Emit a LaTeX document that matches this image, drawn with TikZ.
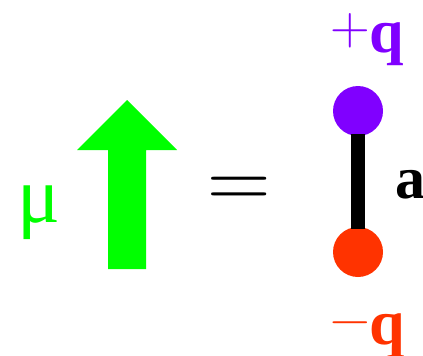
\documentclass[tikz,border=0pt]{standalone}
\usepackage{fontspec}
\setmainfont{Liberation Serif}
\newfontfamily\lmfont{Latin Modern Roman}
\usepackage{tikz}
\usetikzlibrary{positioning}

\definecolor{dipgreen}{HTML}{00FF00}
\definecolor{dippurple}{HTML}{8000FF}
\definecolor{dipred}{HTML}{FF3300}

\newcommand{\signsym}[1]{\raisebox{8pt}{\fontsize{55}{55}\lmfont #1}}

\begin{document}
\begin{tikzpicture}[x=1pt,y=-1pt,
    lbl/.style={anchor=base west, inner sep=0pt},
    charge/.style={circle, inner sep=0pt, minimum size=50pt}]
    \useasboundingbox (0,0) rectangle (423,356);

    % moment arrow and its symbol
    \fill[dipgreen] (108,269) -- (108,150) -- (77,150) -- (127,100)
        -- (177,150) -- (146,150) -- (146,269) -- cycle;
    \node[lbl, text=dipgreen] (mu) at (17,222) {\fontsize{80}{80}\selectfont μ};

    % equals sign
    \node[lbl] (eq) at (207,208) {\fontsize{88}{88}\lmfont =};

    % dipole
    \node[charge, fill=dippurple] (plus) at (358,111) {};
    \node[charge, fill=dipred] (minus) at (358,252) {};
    \draw[line width=14pt, shorten <=-2pt, shorten >=-2pt] (plus) -- (minus);

    \node[lbl, text=dippurple] (pq) at (330,52) {\signsym{+}\fontsize{62}{62}\selectfont\textbf{q}};
    \node[lbl, text=dipred] (mq) at (330,344) {\signsym{−}\fontsize{64}{64}\selectfont\textbf{q}};
    \node[lbl] (sep) at (395,198) {\fontsize{60}{60}\selectfont\textbf{a}};
\end{tikzpicture}
\end{document}
